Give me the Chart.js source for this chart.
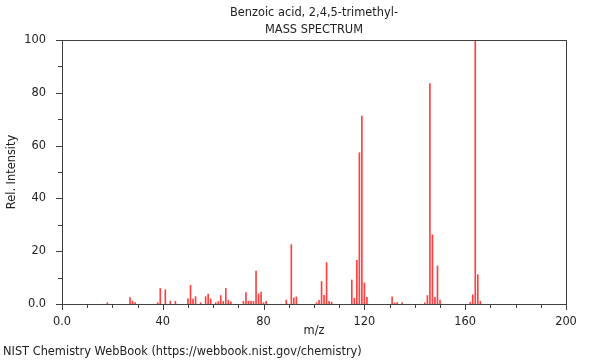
<!DOCTYPE html>
<html>
<head>
<meta charset="utf-8">
<script src="https://cdn.jsdelivr.net/npm/chart.js@4.4.1/dist/chart.umd.min.js"></script>
<style>
  html, body { margin: 0; padding: 0; background: #fff; }
  #wrap { width: 600px; height: 360px; position: relative; }
</style>
</head>
<body>
<div id="wrap"><canvas id="ms" width="600" height="360"></canvas></div>
<script>
// m/z values and relative intensities
const mz = [18, 27, 28, 29, 38, 39, 41, 43, 45, 50, 51, 52, 53, 55, 57, 58, 59, 61, 62, 63, 64, 65, 66, 67,
            72, 73, 74, 75, 76, 77, 78, 79, 80, 81, 89, 91, 92, 93, 101, 102, 103, 104, 105, 106, 107,
            115, 116, 117, 118, 119, 120, 121, 131, 132, 133, 135, 144, 145, 146, 147, 148, 149, 150,
            162, 163, 164, 165, 166];
const intensity = [0.5, 2.4, 1.1, 0.5, 0.5, 5.9, 5.4, 1.1, 1.0, 2.0, 7.1, 1.9, 2.8, 0.5, 2.8, 3.8, 1.9, 0.5, 0.9, 3.2, 1.0, 5.9, 1.4, 0.8,
            1.0, 4.3, 1.1, 1.1, 1.0, 12.5, 3.8, 4.5, 0.5, 1.0, 1.5, 22.5, 2.3, 2.7, 0.5, 1.4, 8.5, 3.3, 15.7, 1.0, 0.7,
            9.1, 2.2, 16.5, 57.3, 71.2, 8.0, 2.5, 2.7, 0.4, 0.5, 0.5, 0.4, 3.2, 83.5, 26.2, 2.5, 14.4, 1.5,
            0.6, 3.5, 100, 11.1, 1.0];

const xTicks = [0, 40, 80, 120, 160, 200];
const yTicks = [0, 20, 40, 60, 80, 100];

const titleLines = ["Benzoic acid, 2,4,5-trimethyl-", "MASS SPECTRUM"];
const footnote = "NIST Chemistry WebBook (https://webbook.nist.gov/chemistry)";

const FONT = "DejaVu Sans";
const FSIZE = 11.4;
const AXIS = "#404040";

// frame, minor/major ticks, titles and footnote
const decor = {
  id: "decor",
  afterDraw(chart) {
    const ctx = chart.ctx;
    const a = chart.chartArea;
    const xs = chart.scales.x, ys = chart.scales.y;
    ctx.save();
    ctx.strokeStyle = AXIS;
    ctx.lineWidth = 1;
    ctx.strokeRect(Math.round(a.left) + 0.5, Math.round(a.top) + 0.5,
                   Math.round(a.right - a.left), Math.round(a.bottom - a.top));
    ctx.beginPath();
    for (let v = 0; v <= 200; v += 10) {
      const px = Math.round(xs.getPixelForValue(v)) + 0.5;
      const len = xTicks.includes(v) ? 6 : 4;
      ctx.moveTo(px, a.bottom);
      ctx.lineTo(px, a.bottom + len);
    }
    for (let v = 0; v <= 100; v += 10) {
      const py = Math.round(ys.getPixelForValue(v)) + 0.5;
      const len = yTicks.includes(v) ? 6 : 4;
      ctx.moveTo(a.left, py);
      ctx.lineTo(a.left - len, py);
    }
    ctx.stroke();

    ctx.fillStyle = "#222";
    ctx.font = FSIZE + "px '" + FONT + "'";
    ctx.textAlign = "center";
    ctx.textBaseline = "middle";
    const cx = (a.left + a.right) / 2;
    ctx.fillText(titleLines[0], cx, 13);
    ctx.fillText(titleLines[1], cx, 30);
    ctx.textAlign = "left";
    ctx.fillText(footnote, 3, 352);
    ctx.restore();
  }
};

new Chart(document.getElementById("ms"), {
  type: "bar",
  data: {
    datasets: [{
      data: mz.map((m, i) => ({ x: m, y: intensity[i] })),
      backgroundColor: "rgba(255, 0, 0, 0.75)",
      borderWidth: 0,
      barThickness: 1
    }]
  },
  options: {
    responsive: false,
    animation: false,
    events: [],
    layout: { padding: { top: 40, right: 34, bottom: 22, left: 0 } },
    plugins: { legend: { display: false }, tooltip: { enabled: false } },
    scales: {
      x: {
        type: "linear",
        offset: false,
        min: 0, max: 200,
        afterBuildTicks: s => { s.ticks = xTicks.map(v => ({ value: v })); },
        afterFit: s => { s.height = 34; },
        grid: { display: false, offset: false },
        border: { display: false },
        ticks: {
          padding: 3,
          color: "#222",
          font: { family: FONT, size: FSIZE },
          maxRotation: 0,
          callback: v => v === 0 ? "0.0" : String(v)
        },
        title: { display: true, text: "m/z", color: "#222", font: { family: FONT, size: FSIZE }, padding: { top: 7, bottom: 0 } }
      },
      y: {
        min: 0, max: 100,
        afterBuildTicks: s => { s.ticks = yTicks.map(v => ({ value: v })); },
        afterFit: s => { s.width = 62; },
        grid: { display: false },
        border: { display: false },
        ticks: {
          padding: 8,
          color: "#222",
          font: { family: FONT, size: FSIZE },
          callback: v => v === 0 ? "0.0" : String(v)
        },
        title: { display: true, text: "Rel. Intensity", color: "#222", font: { family: FONT, size: FSIZE }, padding: { top: 5, bottom: 0 } }
      }
    }
  },
  plugins: [decor]
});
</script>
</body>
</html>
